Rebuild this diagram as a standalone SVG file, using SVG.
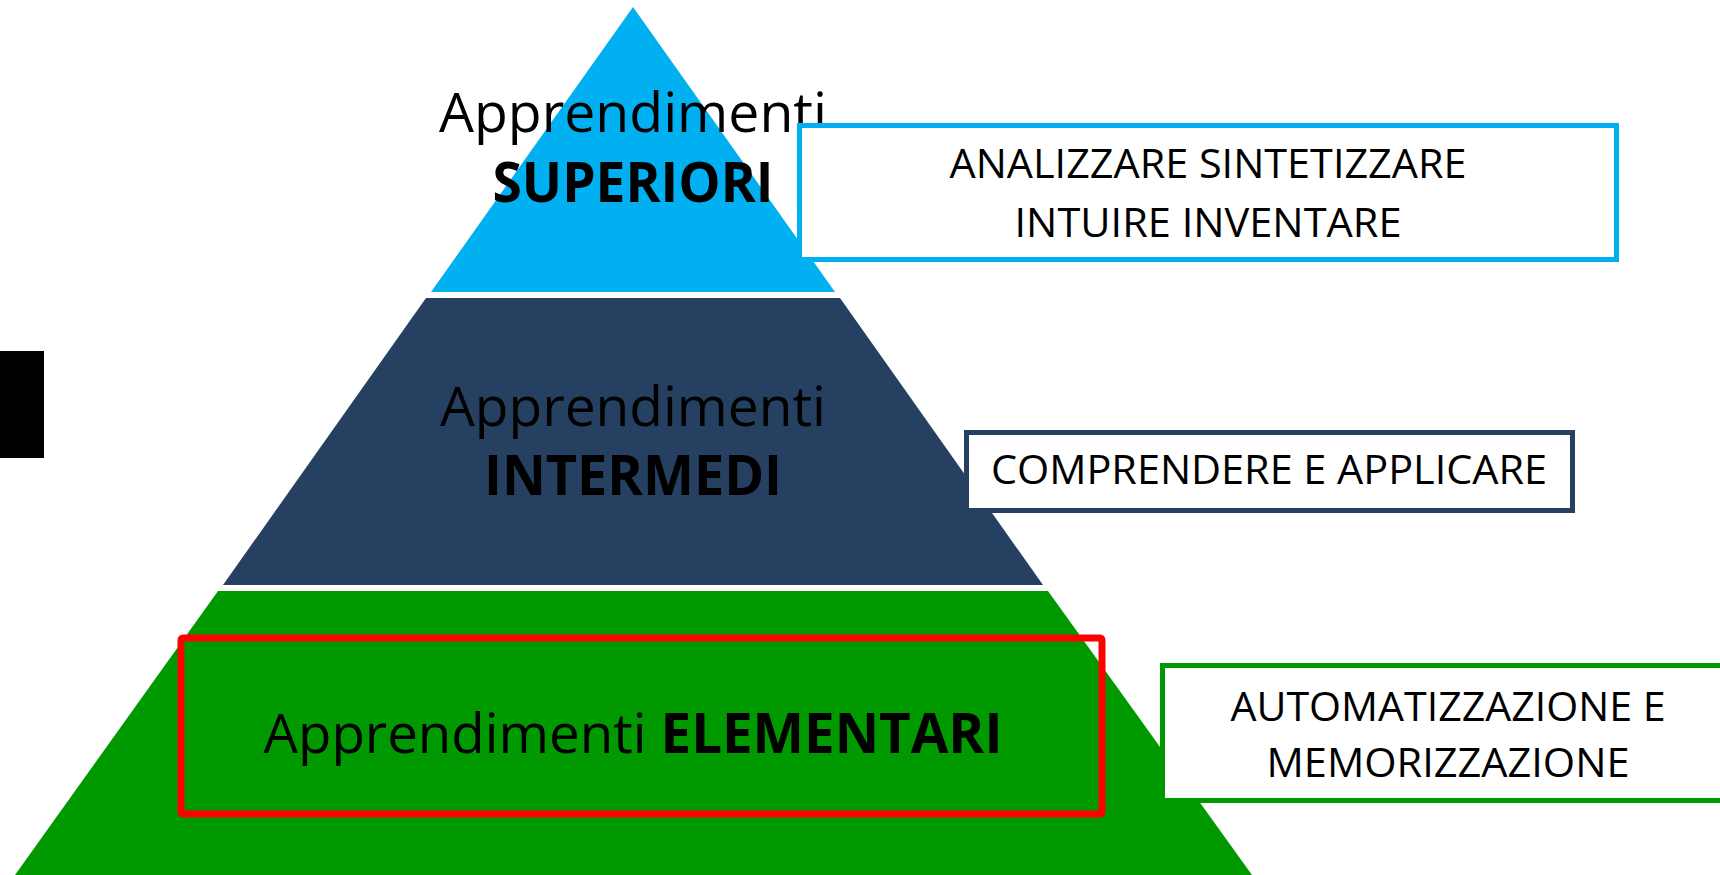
<svg xmlns="http://www.w3.org/2000/svg" width="1720" height="875" viewBox="0 0 1720 875">
<style>
.t{font-family:"Open Sans","Liberation Sans",sans-serif;fill:#000;text-anchor:middle}
.big{font-size:55px}
.b{font-weight:bold}
.box{fill:#fff;stroke-width:5}
.lbl{font-size:41px}
</style>
<rect width="1720" height="875" fill="#fff"/>
<g id="marker-black"><rect x="0" y="351" width="44" height="107" fill="#000"/></g>
<g id="tier-superiori">
<polygon points="633,7 431,292 835,292" fill="#00B0F0"/>
<text class="t big" x="633" y="132" textLength="388" lengthAdjust="spacingAndGlyphs">Apprendimenti</text>
<text class="t big b" x="633" y="202" textLength="281" lengthAdjust="spacingAndGlyphs">SUPERIORI</text>
</g>
<g id="tier-intermedi">
<polygon points="426,298 840,298 1043,585 223,585" fill="#264061"/>
<text class="t big" x="633" y="426" textLength="386" lengthAdjust="spacingAndGlyphs">Apprendimenti</text>
<text class="t big b" x="633" y="495" textLength="298" lengthAdjust="spacingAndGlyphs">INTERMEDI</text>
</g>
<g id="tier-elementari">
<polygon points="218,591 1048,591 1252,875 15,875" fill="#009900"/>
<rect x="181" y="638" width="921" height="176" rx="2" fill="none" stroke="#FF0000" stroke-width="7"/>
<text class="t big" x="633" y="753" textLength="739" lengthAdjust="spacingAndGlyphs">Apprendimenti <tspan class="b">ELEMENTARI</tspan></text>
</g>
<g id="box-superiori">
<rect class="box" x="799.5" y="125.5" width="817" height="134" stroke="#00B0F0"/>
<text class="t lbl" x="1208" y="178" textLength="517" lengthAdjust="spacingAndGlyphs">ANALIZZARE SINTETIZZARE</text>
<text class="t lbl" x="1208" y="237" textLength="387" lengthAdjust="spacingAndGlyphs">INTUIRE INVENTARE</text>
</g>
<g id="box-intermedi">
<rect class="box" x="966.5" y="432.5" width="606" height="78" stroke="#264061"/>
<text class="t lbl" x="1269" y="484" textLength="556" lengthAdjust="spacingAndGlyphs">COMPRENDERE E APPLICARE</text>
</g>
<g id="box-elementari">
<rect class="box" x="1162.5" y="665.5" width="580" height="135" stroke="#009900"/>
<text class="t lbl" x="1448" y="721" textLength="435" lengthAdjust="spacingAndGlyphs">AUTOMATIZZAZIONE E</text>
<text class="t lbl" x="1448" y="777" textLength="363" lengthAdjust="spacingAndGlyphs">MEMORIZZAZIONE</text>
</g>
<g id="connectors"></g>
</svg>
